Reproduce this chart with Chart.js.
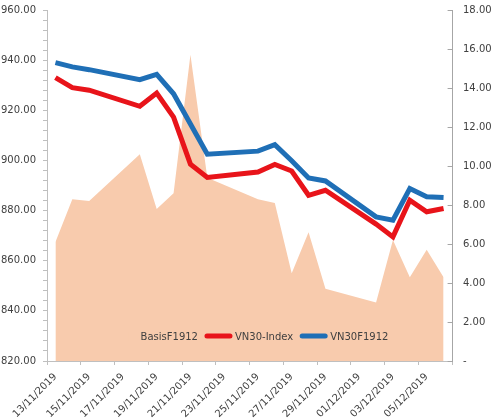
<!DOCTYPE html>
<html>
<head>
<meta charset="utf-8">
<script src="https://cdn.jsdelivr.net/npm/chart.js@4.4.1/dist/chart.umd.min.js"></script>
<style>
  html, body { margin: 0; padding: 0; background: #fff; }
  #wrap { width: 500px; height: 419px; }
</style>
</head>
<body>
<div id="wrap"><canvas id="chart"></canvas></div>
<script>
// calendar days on the axis (labels shown every second day)
var axisDays = ["13/11/2019","14/11/2019","15/11/2019","16/11/2019","17/11/2019","18/11/2019",
                "19/11/2019","20/11/2019","21/11/2019","22/11/2019","23/11/2019","24/11/2019",
                "25/11/2019","26/11/2019","27/11/2019","28/11/2019","29/11/2019","30/11/2019",
                "01/12/2019","02/12/2019","03/12/2019","04/12/2019","05/12/2019","06/12/2019"];

// trading days with data
var tradingDays = ["13/11/2019","14/11/2019","15/11/2019","18/11/2019","19/11/2019","20/11/2019",
                   "21/11/2019","22/11/2019","25/11/2019","26/11/2019","27/11/2019","28/11/2019",
                   "29/11/2019","02/12/2019","03/12/2019","04/12/2019","05/12/2019","06/12/2019"];

var vn30Index  = [933.0, 929.0, 928.0, 921.6, 926.9, 917.3, 898.5, 893.2, 895.4, 898.4, 895.8, 886.1, 888.1, 874.6, 869.5, 884.1, 879.5, 880.8];
var vn30F1912  = [939.0, 937.3, 936.2, 932.2, 934.3, 926.6, 914.5, 902.5, 903.7, 906.3, 899.9, 893.0, 891.8, 877.5, 876.2, 888.8, 885.5, 885.2];
var basisF1912 = [6.1, 8.3, 8.2, 10.6, 7.8, 8.6, 15.7, 9.4, 8.3, 8.1, 4.5, 6.6, 3.7, 3.0, 6.2, 4.3, 5.7, 4.3];

var leftMin = 820, leftMax = 960, leftStep = 20;
var rightMin = 0, rightMax = 18, rightStep = 2;

function toPoints(values) {
  return tradingDays.map(function (d, i) { return { x: d, y: values[i] }; });
}

var FONT = { family: '"DejaVu Sans", Verdana, sans-serif', size: 10 };
var TEXT = '#404040';
var AXIS = '#bfbfbf';

// legend drawn inside the plot, near the bottom (like the Excel one)
var insideLegend = {
  id: 'insideLegend',
  afterDatasetsDraw: function (chart) {
    var ctx = chart.ctx, area = chart.chartArea;
    ctx.save();
    ctx.font = FONT.size + 'px ' + FONT.family;
    var swatch = 27, gapText = 3, gapItem = 7;
    var items = chart.data.datasets.map(function (ds) {
      return { ds: ds, w: ctx.measureText(ds.label).width };
    });
    var total = items.reduce(function (s, it) { return s + swatch + gapText + it.w; }, 0) + gapItem * (items.length - 1);
    var x = (area.left + area.right) / 2 - total / 2;
    var y = area.bottom - 25;
    items.forEach(function (it) {
      if (it.ds.fill) {
        ctx.fillStyle = it.ds.backgroundColor;
        ctx.fillRect(x + 9, y - 4, 9, 9);
      } else {
        ctx.strokeStyle = it.ds.borderColor;
        ctx.lineWidth = 5;
        ctx.lineCap = 'round';
        ctx.beginPath();
        ctx.moveTo(x + 2, y);
        ctx.lineTo(x + swatch - 2, y);
        ctx.stroke();
      }
      ctx.fillStyle = TEXT;
      ctx.textBaseline = 'middle';
      ctx.fillText(it.ds.label, x + swatch + gapText, y + 1);
      x += swatch + gapText + it.w + gapItem;
    });

    // right axis tick marks point inward
    var y1 = chart.scales.y1;
    ctx.strokeStyle = '#a6a6a6';
    ctx.lineWidth = 1;
    y1.ticks.forEach(function (t) {
      var py = Math.round(y1.getPixelForValue(t.value)) + 0.5;
      ctx.beginPath();
      ctx.moveTo(area.right - 4, py);
      ctx.lineTo(area.right, py);
      ctx.stroke();
    });
    ctx.restore();
  }
};

// keep the label padding from pushing the plot down
function fitVertical(width) {
  return function (s) {
    s.width = width;
    s.paddingTop = 0;
    s.paddingBottom = 0;
  };
}

new Chart(document.getElementById('chart'), {
  type: 'line',
  data: {
    labels: axisDays,
    datasets: [{
      label: 'BasisF1912',
      data: toPoints(basisF1912),
      yAxisID: 'y1',
      fill: 'origin',
      backgroundColor: '#f8cbad',
      borderWidth: 0,
      pointRadius: 0,
      order: 3
    }, {
      label: 'VN30-Index',
      data: toPoints(vn30Index),
      yAxisID: 'y',
      borderColor: '#e8141a',
      borderWidth: 5,
      pointRadius: 0,
      fill: false,
      order: 2
    }, {
      label: 'VN30F1912',
      data: toPoints(vn30F1912),
      yAxisID: 'y',
      borderColor: '#1f6fb6',
      borderWidth: 5,
      pointRadius: 0,
      fill: false,
      order: 1
    }]
  },
  options: {
    responsive: true,
    maintainAspectRatio: false,
    animation: false,
    devicePixelRatio: 1,
    layout: { padding: { top: 10 } },
    plugins: {
      legend: { display: false },
      tooltip: { enabled: false }
    },
    scales: {
      x: {
        type: 'category',
        offset: true,
        afterFit: function (s) { s.height = 58; },
        grid: {
          offset: true,
          drawOnChartArea: false,
          tickLength: 4,
          color: function (c) { return c.index % 2 ? 'rgba(0,0,0,0)' : AXIS; }
        },
        border: { color: AXIS },
        ticks: {
          autoSkip: false,
          maxRotation: 45,
          minRotation: 45,
          padding: 6,
          color: TEXT,
          font: FONT,
          callback: function (v, i) { return i % 2 ? '' : this.getLabelForValue(v); }
        }
      },
      y: {
        position: 'left',
        min: leftMin,
        max: leftMax,
        afterFit: fitVertical(47),
        grid: { drawOnChartArea: false, tickLength: 4, color: AXIS },
        border: { color: AXIS },
        ticks: {
          stepSize: 4,
          padding: 7,
          color: TEXT,
          font: FONT,
          autoSkip: false,
          callback: function (v) { return v % leftStep === 0 ? v.toFixed(2) : ''; }
        }
      },
      y1: {
        position: 'right',
        min: rightMin,
        max: rightMax,
        afterFit: fitVertical(48),
        grid: { drawOnChartArea: false, drawTicks: false },
        border: { color: '#a6a6a6' },
        ticks: {
          stepSize: rightStep,
          padding: 11,
          color: TEXT,
          font: FONT,
          callback: function (v) { return v === 0 ? '-' : v.toFixed(2); }
        }
      }
    }
  },
  plugins: [insideLegend]
});
</script>
</body>
</html>
